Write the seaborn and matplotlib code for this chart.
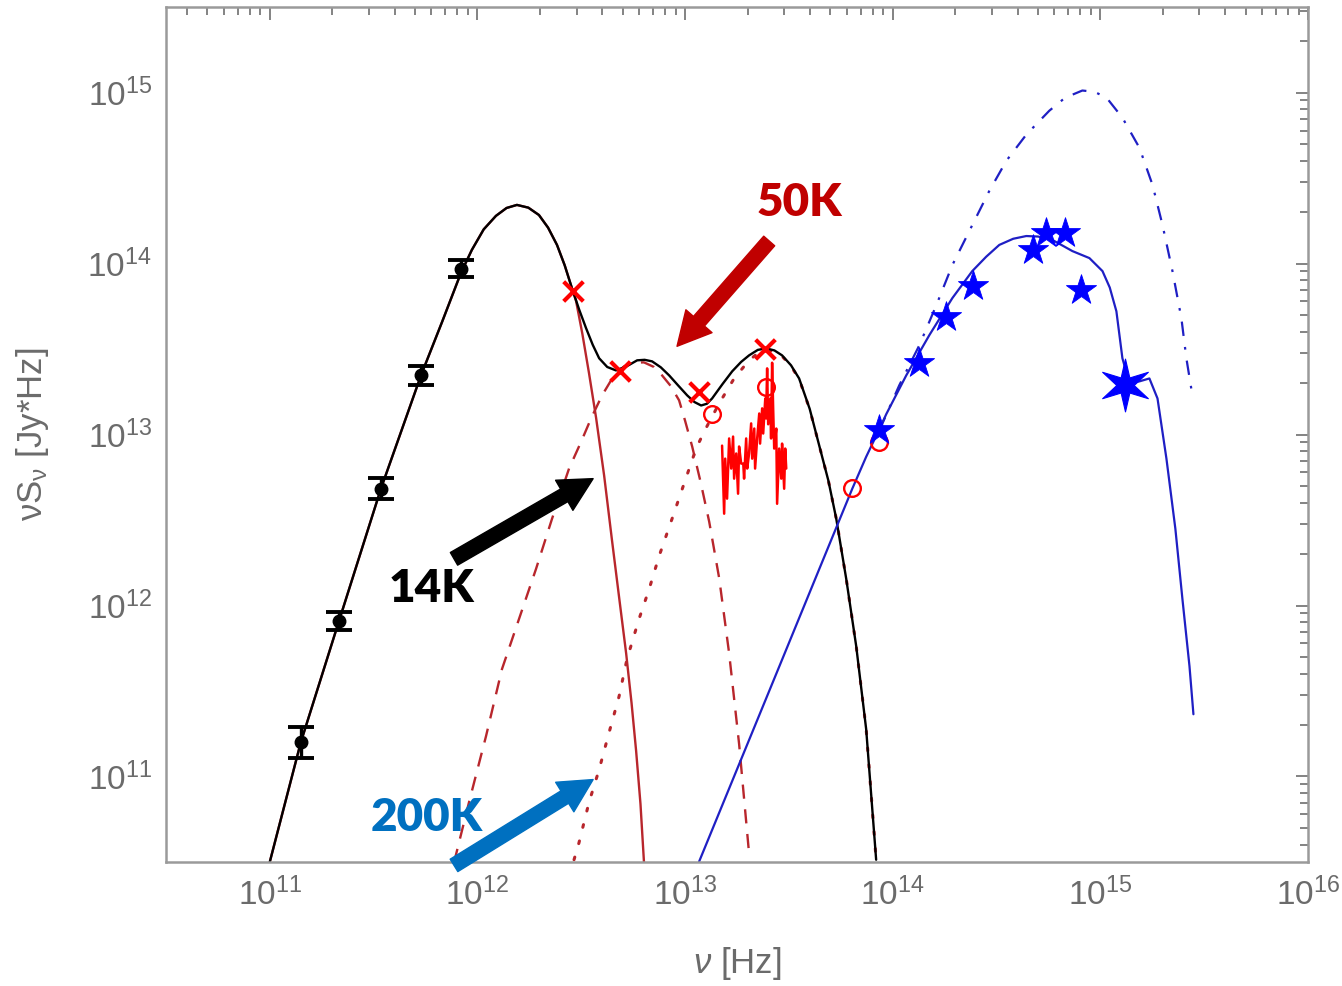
import numpy as np
import pandas as pd
import seaborn as sns
import matplotlib
matplotlib.use("Agg")
import matplotlib.pyplot as plt
from matplotlib.patches import FancyArrowPatch
from matplotlib.path import Path
from matplotlib.ticker import LogLocator, NullFormatter, LogFormatterMathtext

# ---------------------------------------------------------------------------
# Photometry (log10 nu [Hz], log10 nuS_nu [Jy*Hz])
# ---------------------------------------------------------------------------
submm_lognu = [11.149, 11.333, 11.535, 11.728, 11.920]
submm_logS = [11.199, 11.909, 12.683, 13.346, 13.970]
submm_err_dex = [0.090, 0.055, 0.060, 0.055, 0.048]

fir_lognu = [12.460, 12.687, 13.067, 13.386]
fir_logS = [13.841, 13.371, 13.247, 13.500]

mir_lognu = [13.130, 13.390, 13.805, 13.935]
mir_logS = [13.118, 13.276, 12.688, 12.959]

opt_lognu = [13.935, 14.128, 14.258, 14.388, 14.677, 14.740, 14.831, 14.908]
opt_logS = [13.024, 13.418, 13.688, 13.871, 14.082, 14.176, 14.176, 13.847]

uv_lognu = [15.120]
uv_logS = [13.288]

# Mid-IR spectrum
spec_lognu = [13.178, 13.188, 13.193, 13.202, 13.212, 13.222, 13.231, 13.236,
              13.246, 13.255, 13.260, 13.270, 13.280, 13.284, 13.294, 13.299,
              13.308, 13.318, 13.323, 13.333, 13.337, 13.347, 13.357, 13.361,
              13.371, 13.376, 13.386, 13.390, 13.395, 13.400, 13.410, 13.414,
              13.419, 13.424, 13.429, 13.439, 13.443, 13.453, 13.463, 13.467,
              13.477, 13.482, 13.487]
spec_logS = [12.935, 12.537, 12.859, 12.625, 12.977, 12.801, 12.988, 12.742,
             12.889, 12.654, 12.930, 12.830, 12.830, 12.742, 12.977, 12.801,
             12.889, 13.065, 12.859, 13.035, 12.801, 12.977, 13.123, 12.947,
             13.153, 13.006, 13.211, 13.094, 13.387, 13.060, 13.211, 12.977,
             13.420, 13.153, 12.918, 13.035, 12.595, 12.918, 12.742, 12.947,
             12.683, 12.918, 12.801]

# ---------------------------------------------------------------------------
# Model curves
# ---------------------------------------------------------------------------
total_lognu = [11.000, 11.149, 11.333, 11.535, 11.728, 11.830, 11.920, 11.973,
               12.030, 12.089, 12.140, 12.190, 12.245, 12.296, 12.340, 12.383,
               12.420, 12.455, 12.490, 12.523, 12.555, 12.586, 12.625, 12.667,
               12.720, 12.769, 12.805, 12.841, 12.883, 12.923, 12.968, 13.010,
               13.045, 13.077, 13.105, 13.130, 13.180, 13.227, 13.270, 13.308,
               13.350, 13.390, 13.430, 13.467, 13.510, 13.549, 13.600, 13.646,
               13.690, 13.728, 13.776, 13.824, 13.872, 13.920]
total_logS = [10.501, 11.199, 11.909, 12.683, 13.346, 13.660, 13.944, 14.080,
              14.200, 14.279, 14.325, 14.343, 14.327, 14.284, 14.210, 14.109,
              13.990, 13.856, 13.730, 13.622, 13.525, 13.446, 13.395, 13.375,
              13.400, 13.434, 13.437, 13.428, 13.393, 13.346, 13.285, 13.229,
              13.190, 13.170, 13.180, 13.211, 13.295, 13.370, 13.425, 13.463,
              13.495, 13.504, 13.492, 13.463, 13.405, 13.328, 13.150, 12.935,
              12.730, 12.507, 12.155, 11.762, 11.276, 10.513]

cold_lognu = [11.000, 11.149, 11.333, 11.535, 11.728, 11.830, 11.920, 11.973,
              12.030, 12.089, 12.140, 12.190, 12.245, 12.296, 12.340, 12.383,
              12.420, 12.455, 12.475, 12.505, 12.537, 12.571, 12.610, 12.648,
              12.685, 12.716, 12.742, 12.764, 12.785, 12.802]
cold_logS = [10.501, 11.199, 11.909, 12.683, 13.346, 13.660, 13.944, 14.080,
             14.200, 14.279, 14.325, 14.343, 14.327, 14.284, 14.210, 14.109,
             13.990, 13.856, 13.780, 13.590, 13.360, 13.100, 12.760, 12.380,
             12.020, 11.720, 11.430, 11.150, 10.840, 10.496]

warm_lognu = [11.887, 11.959, 12.041, 12.118, 12.200, 12.282, 12.359, 12.441,
              12.500, 12.547, 12.600, 12.650, 12.706, 12.750, 12.802, 12.850,
              12.889, 12.930, 12.971, 13.000, 13.034, 13.075, 13.116, 13.164,
              13.212, 13.260, 13.308]
warm_logS = [10.496, 10.848, 11.235, 11.628, 11.921, 12.214, 12.507, 12.801,
             12.960, 13.094, 13.229, 13.330, 13.399, 13.420, 13.422, 13.395,
             13.346, 13.285, 13.200, 13.080, 12.930, 12.720, 12.490, 12.160,
             11.720, 11.190, 10.550]

hot_lognu = [12.465, 12.489, 12.537, 12.586, 12.634, 12.682, 12.720, 12.778,
             12.827, 12.875, 12.937, 12.995, 13.053, 13.092, 13.164, 13.236,
             13.308, 13.350, 13.390, 13.430, 13.467, 13.510, 13.549, 13.600,
             13.646, 13.690, 13.728, 13.776, 13.824, 13.872, 13.920]
hot_logS = [10.513, 10.613, 10.848, 11.041, 11.258, 11.469, 11.686, 11.921,
            12.097, 12.290, 12.507, 12.713, 12.918, 13.018, 13.182, 13.328,
            13.434, 13.475, 13.493, 13.485, 13.458, 13.400, 13.325, 13.148,
            12.935, 12.730, 12.507, 12.155, 11.762, 11.276, 10.513]

star_lognu = [13.067, 13.250, 13.450, 13.650, 13.805, 13.872, 13.935, 13.969,
              14.065, 14.176, 14.287, 14.383, 14.450, 14.513, 14.580, 14.643,
              14.700, 14.769, 14.865, 14.947, 15.010, 15.045, 15.077, 15.106,
              15.140, 15.188, 15.236, 15.275, 15.318, 15.361, 15.395, 15.429,
              15.448]
star_logS = [10.501, 11.042, 11.633, 12.225, 12.683, 12.870, 13.030, 13.120,
             13.346, 13.581, 13.798, 13.956, 14.040, 14.109, 14.145, 14.161,
             14.158, 14.138, 14.073, 14.032, 13.956, 13.860, 13.721, 13.446,
             13.299, 13.311, 13.328, 13.211, 12.859, 12.449, 12.038, 11.645,
             11.364]

intrinsic_lognu = [13.935, 14.031, 14.128, 14.210, 14.287, 14.369, 14.465, 14.547,
                   14.643, 14.754, 14.830, 14.913, 14.970, 15.029, 15.106, 15.188,
                   15.251, 15.299, 15.347, 15.390, 15.414, 15.443]
intrinsic_logS = [13.023, 13.287, 13.522, 13.757, 13.991, 14.191, 14.425, 14.601,
                  14.754, 14.894, 14.970, 15.012, 15.005, 14.971, 14.853, 14.677,
                  14.460, 14.226, 13.956, 13.680, 13.446, 13.229]

component_labels = ["50K", "14K", "200K"]


def lin(a):
    return 10.0 ** np.asarray(a, dtype=float)


# ---------------------------------------------------------------------------
# Style
# ---------------------------------------------------------------------------
sns.set_theme(style="white")
plt.rcParams["font.family"] = ["Liberation Sans", "DejaVu Sans"]
plt.rcParams["mathtext.fontset"] = "custom"
plt.rcParams["mathtext.rm"] = "Liberation Sans"
plt.rcParams["mathtext.it"] = "Liberation Sans:italic"
plt.rcParams["mathtext.default"] = "regular"

GREY_TXT = "#6b6b6b"
GREY_AX = "#9a9a9a"
DARKRED = "#b8262c"
BLUE_LINE = "#1f1fc4"

fig = plt.figure(figsize=(13.42, 9.86), dpi=100)
ax = fig.add_axes([0.1237, 0.1258, 0.851, 0.867])
ax.set_xscale("log")
ax.set_yscale("log")
ax.set_xlim(10 ** 10.5, 10 ** 16)
ax.set_ylim(10 ** 10.5, 10 ** 15.5)


def curve(lx, ly, **kw):
    df = pd.DataFrame({"nu": lin(lx), "S": lin(ly)})
    sns.lineplot(data=df, x="nu", y="S", ax=ax, sort=False, estimator=None,
                 legend=False, **kw)


# dust components
curve(cold_lognu, cold_logS, color=DARKRED, linewidth=1.7)
curve(warm_lognu, warm_logS, color=DARKRED, linewidth=1.7,
      linestyle=(0, (6.0, 4.5)))
curve(hot_lognu, hot_logS, color=DARKRED, linewidth=2.2,
      linestyle=(0, (0.9, 4.6)), dash_capstyle="round")
# total dust model
curve(total_lognu, total_logS, color="black", linewidth=1.7)

# stellar models
curve(intrinsic_lognu, intrinsic_logS, color=BLUE_LINE, linewidth=1.6,
      linestyle=(0, (6.5, 5.0, 1.2, 5.0)))
curve(star_lognu, star_logS, color=BLUE_LINE, linewidth=1.6)

# mid-IR spectrum
ax.plot(lin(spec_lognu), lin(spec_logS), color="red", linewidth=1.8)

# sub-mm photometry with error bars
sx = lin(submm_lognu)
sy = lin(submm_logS)
ed = np.asarray(submm_err_dex)
ax.errorbar(sx, sy, yerr=[sy - sy * 10 ** (-ed), sy * 10 ** ed - sy],
            fmt="o", color="black", ms=9, capsize=9.5, capthick=2.8,
            elinewidth=2.4, zorder=5)

# far-IR photometry
sns.scatterplot(x=lin(fir_lognu), y=lin(fir_logS), ax=ax, marker="x", s=200,
                color="red", linewidth=3.0, zorder=6, legend=False)
# mid-IR photometry
ax.plot(lin(mir_lognu), lin(mir_logS), linestyle="none", marker="o", ms=12,
        mfc="none", mec="red", mew=1.7, zorder=6)
# optical / near-IR photometry
sns.scatterplot(x=lin(opt_lognu), y=lin(opt_logS), ax=ax, marker="*", s=520,
                color="blue", edgecolor="blue", linewidth=0.6, zorder=7,
                legend=False)
big_star = Path.unit_regular_star(6, 0.33)
sns.scatterplot(x=lin(uv_lognu), y=lin(uv_logS), ax=ax, marker=big_star,
                s=38 ** 2, color="blue", edgecolor="blue", linewidth=0.8,
                zorder=7, legend=False)

# ---------------------------------------------------------------------------
# Temperature annotations
# ---------------------------------------------------------------------------
annot = [
    # label, colour, text position, arrow tail, arrow tip (log10 coords)
    (component_labels[0], "#c00000", (13.549, 14.355), (13.405, 14.132), (12.961, 13.516)),
    (component_labels[1], "#000000", (11.776, 12.097), (11.887, 12.273), (12.557, 12.742)),
    (component_labels[2], "#0070c0", (11.757, 10.760), (11.887, 10.480), (12.557, 10.982)),
]
for text, col, tpos, tail, tip in annot:
    ax.text(10 ** tpos[0], 10 ** tpos[1], text, color=col, fontsize=33,
            fontweight="heavy", family="Lato", ha="center", va="center",
            zorder=10)
    arr = FancyArrowPatch((10 ** tail[0], 10 ** tail[1]), (10 ** tip[0], 10 ** tip[1]),
                          arrowstyle="simple,head_length=2.4,head_width=2.5,tail_width=1.05",
                          mutation_scale=10, color=col, shrinkA=0, shrinkB=0,
                          transform=ax.transData, zorder=10, clip_on=False)
    ax.add_patch(arr)

# ---------------------------------------------------------------------------
# Axes, ticks, labels
# ---------------------------------------------------------------------------
for sp in ax.spines.values():
    sp.set_color(GREY_AX)
    sp.set_linewidth(1.8)

for axis in (ax.xaxis, ax.yaxis):
    axis.set_major_locator(LogLocator(base=10, numticks=20))
    axis.set_minor_locator(LogLocator(base=10, subs=np.arange(2, 10), numticks=50))
    axis.set_minor_formatter(NullFormatter())
    axis.set_major_formatter(LogFormatterMathtext())

ax.tick_params(which="both", direction="in", top=True, right=True,
               color="#7a7a7a", width=1.3, labelcolor=GREY_TXT, labelsize=24)
ax.tick_params(which="major", length=9)
ax.tick_params(which="minor", length=5.5)
ax.tick_params(axis="x", which="major", pad=11)
ax.tick_params(axis="y", which="major", pad=10)

ax.set_xlabel(r"$\it{\nu}$ [Hz]", fontsize=25, color=GREY_TXT, labelpad=24)
ax.set_ylabel(r"$\nu S_{\nu}$ [Jy$*$Hz]", fontsize=25, color=GREY_TXT, labelpad=26)

fig.savefig("out.png", dpi=100, facecolor="white")
